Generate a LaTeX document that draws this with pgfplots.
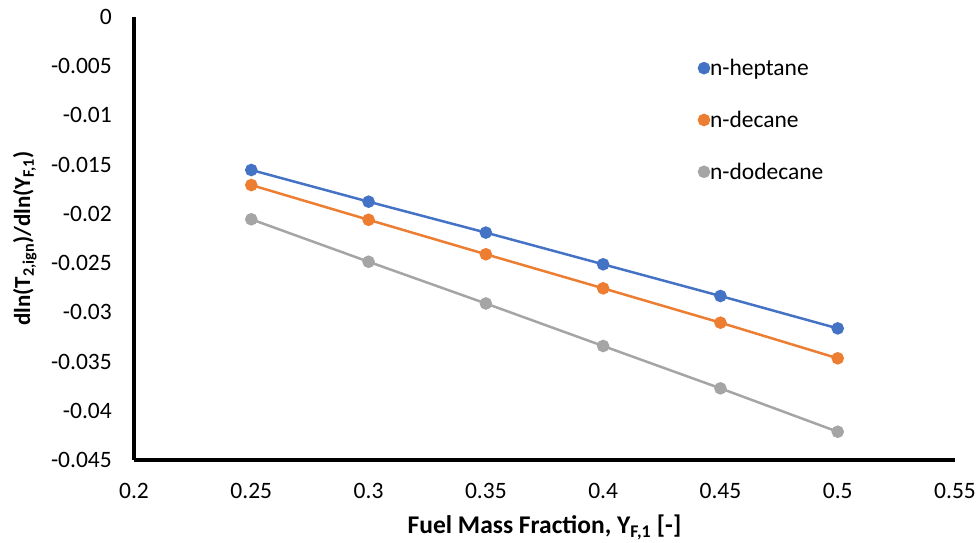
\documentclass[border=0pt]{standalone}
\usepackage{fontspec}
\setmainfont{Carlito}
\usepackage{pgfplots}
\pgfplotsset{compat=1.18}
\definecolor{xlBlue}{HTML}{4472C4}
\definecolor{xlOrange}{HTML}{ED7D31}
\definecolor{xlGray}{HTML}{A5A5A5}
\begin{document}
\begin{tikzpicture}
\useasboundingbox (-134pt,-82pt) rectangle (845pt,460pt);
\begin{axis}[
  at={(0pt,0pt)}, anchor=south west,
  scale only axis, width=821pt, height=443pt,
  xmin=0.2, xmax=0.55, ymin=-0.045, ymax=0,
  axis x line*=bottom, axis y line*=left,
  axis line style={line width=4pt, -},
  major tick length=0pt,
  scaled x ticks=false, scaled y ticks=false,
  xtick={0.2,0.25,...,0.56},
  xticklabels={0.2,0.25,0.3,0.35,0.4,0.45,0.5,0.55},
  ytick={-0.045,-0.04,...,0.001},
  yticklabels={-0.045,-0.04,-0.035,-0.03,-0.025,-0.02,-0.015,-0.01,-0.005,0},
  font=\fontsize{23.5}{28}\selectfont,
  xticklabel style={anchor=center, inner sep=0pt, yshift=-31pt},
  yticklabel style={anchor=east, inner sep=0pt, xshift=-22pt},
  xlabel={\textbf{Fuel Mass Fraction, Y\textsubscript{F,1} [-]}},
  ylabel={\textbf{dln(T\textsubscript{2,ign})/dln(Y\textsubscript{F,1})}},
  every axis x label/.style={at={(axis description cs:0.5,-0.152)}, anchor=center,
    font=\fontsize{25.5}{30}\selectfont},
  every axis y label/.style={at={(axis description cs:-0.133,0.5)}, rotate=90, anchor=center,
    font=\fontsize{23}{28}\selectfont},
  every axis plot/.append style={line width=2.5pt, mark=*, mark size=5pt},
  legend image code/.code={\draw[only marks,#1] plot coordinates {(0pt,0pt)};},
  legend style={at={(axis cs:0.4395,-0.01046)}, anchor=west, draw=none, fill=none,
    row sep=32pt, font=\fontsize{23.5}{28}\selectfont, nodes={inner sep=1pt}},
  legend cell align=left,
]
\addplot[color=xlBlue, mark options={fill=xlBlue}] coordinates {
  (0.25,-0.01554) (0.30,-0.01876) (0.35,-0.02190) (0.40,-0.02512) (0.45,-0.02834) (0.50,-0.03163)};
\addlegendentry{n-heptane}
\addplot[color=xlOrange, mark options={fill=xlOrange}] coordinates {
  (0.25,-0.01707) (0.30,-0.02060) (0.35,-0.02410) (0.40,-0.02756) (0.45,-0.03105) (0.50,-0.03467)};
\addlegendentry{n-decane}
\addplot[color=xlGray, mark options={fill=xlGray}] coordinates {
  (0.25,-0.02055) (0.30,-0.02486) (0.35,-0.02910) (0.40,-0.03342) (0.45,-0.03772) (0.50,-0.04213)};
\addlegendentry{n-dodecane}
\end{axis}
\end{tikzpicture}
\end{document}
